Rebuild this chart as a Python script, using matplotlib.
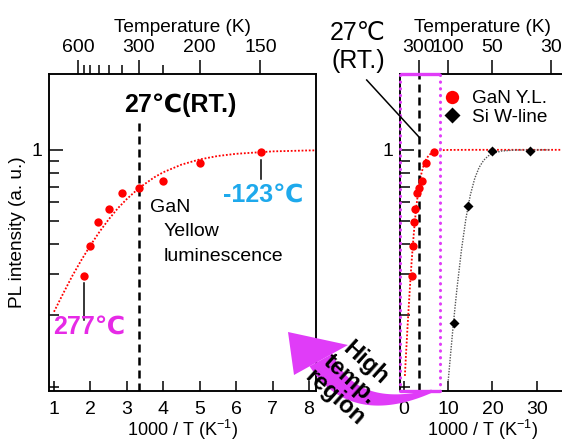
import numpy as np
import matplotlib
matplotlib.use('Agg')
import matplotlib.pyplot as plt
from matplotlib.patches import Polygon
from matplotlib.lines import Line2D
from matplotlib.ticker import NullFormatter

plt.rcParams['font.family'] = ['Liberation Sans', 'DejaVu Sans']
plt.rcParams['mathtext.default'] = 'regular'

W, H = 562, 441

# ---------------- data ----------------
gan_x = [1.82, 2.0, 2.22, 2.5, 2.86, 3.33, 4.0, 5.0, 6.67]          # 1000/T
gan_y = [0.294, 0.394, 0.496, 0.563, 0.656, 0.689, 0.740, 0.879, 0.98]

gan_fit_x = [0.2, 0.4, 0.6, 0.8, 1.0, 1.25, 1.5, 1.75, 2.0, 2.25, 2.5, 2.75,
             3.0, 3.33, 3.75, 4.0, 4.5, 5.0, 5.5, 6.0, 7.0, 8.0, 9.0, 10.0, 15.0, 40.0]
gan_fit_y = [0.111, 0.131, 0.153, 0.179, 0.207, 0.247, 0.293, 0.342, 0.395, 0.451,
             0.508, 0.566, 0.620, 0.689, 0.765, 0.804, 0.866, 0.911, 0.942, 0.962,
             0.985, 0.994, 0.997, 0.999, 1.0, 1.0]

si_x = [11.2, 14.5, 20.0, 28.6]
si_y = [0.186, 0.58, 0.99, 0.99]

si_fit_x = [10.0, 10.5, 11.0, 11.5, 12.0, 13.0, 14.0, 15.0, 16.0, 17.0, 18.0,
            19.0, 20.0, 22.0, 25.0, 33.0]
si_fit_y = [0.106, 0.135, 0.171, 0.213, 0.262, 0.379, 0.513, 0.645, 0.758, 0.844,
            0.903, 0.941, 0.965, 0.988, 0.998, 1.0]

temp_major_left = [600, 300, 200, 150]
temp_minor_left = [550, 500, 450, 400, 350, 250]
temp_major_right = [300, 100, 50, 30]
rt_temperature = 300
left_xticks = [1, 2, 3, 4, 5, 6, 7, 8]
right_xticks = [0, 10, 20, 30]
zoom_box_right = 8.1

MAG = '#E03CF8'
MAG_TXT = '#E62AE6'
CYAN = '#1EA9EC'

fig = plt.figure(figsize=(W / 100, H / 100), dpi=100)


def fpx(x, y):
    return (x / W, 1 - y / H)


top_px, bot_px = 74.5, 390.5
axL = fig.add_axes([49 / W, 1 - bot_px / H, (316 - 49) / W, (bot_px - top_px) / H])
axR = fig.add_axes([400 / W, 1 - bot_px / H, (565 - 400) / W, (bot_px - top_px) / H])

FS = 14
LFS = 13.7
YLIM = (0.0963, 2.08)
for ax in (axL, axR):
    ax.set_yscale('log')
    ax.set_ylim(*YLIM)
    ax.set_yticks([1])
    ax.set_yticklabels(['1'])
    ax.set_yticks([0.1, 0.2, 0.3, 0.4, 0.5, 0.6, 0.7, 0.8, 0.9], minor=True)
    ax.yaxis.set_minor_formatter(NullFormatter())
    ax.tick_params(axis='y', which='major', direction='in', length=10, width=1.1,
                   labelsize=FS, pad=5)
    ax.tick_params(axis='y', which='minor', direction='in', length=7, width=1.1)
    ax.tick_params(axis='x', which='major', direction='in', length=7, width=1.1,
                   labelsize=FS, pad=7.5)
    for s in ax.spines.values():
        s.set_linewidth(1.1)
    ax.set_xlabel('1000 / T (K$^{-1}$)', fontsize=13, labelpad=0)

axL.set_xlim(0.863, 8.192)
axL.set_xticks(left_xticks)
axR.set_xlim(-0.904, 36.4)
axR.set_xticks(right_xticks)
axR.spines['right'].set_visible(False)
axL.set_ylabel('PL intensity (a. u.)', fontsize=LFS, labelpad=4)

# top temperature axes
tops = []
for ax, tmaj, tmin in ((axL, temp_major_left, temp_minor_left),
                       (axR, temp_major_right, [])):
    axT = ax.twiny()
    axT.set_xlim(ax.get_xlim())
    axT.set_xticks([1000 / t for t in tmaj])
    axT.set_xticklabels([str(t) for t in tmaj])
    if tmin:
        axT.set_xticks([1000 / t for t in tmin], minor=True)
    axT.tick_params(axis='x', which='major', direction='out', length=10, width=1.1,
                    labelsize=FS, pad=3)
    axT.tick_params(axis='x', which='minor', direction='out', length=6.5, width=1.1)
    axT.set_xlabel('Temperature (K)', fontsize=LFS, labelpad=5)
    for s in axT.spines.values():
        s.set_linewidth(1.1)
    if ax is axR:
        axT.spines['right'].set_visible(False)
    tops.append(axT)
axRT = tops[1]

rt_x = 1000 / rt_temperature
DASH = (0, (3.2, 2))

# ---------------- left panel ----------------
fx = np.array(gan_fit_x)
fy = np.array(gan_fit_y)
m = fx >= 1.0
axL.plot(fx[m], fy[m], color='red', lw=1.3, ls=(0, (1, 1)), zorder=2)
axL.plot(gan_x, gan_y, 'o', color='red', ms=6, mec='none', zorder=3)
axL.plot([rt_x, rt_x], [YLIM[0], 1.34], color='black', lw=1.8, ls=DASH, zorder=2)
axL.plot([gan_x[0], gan_x[0]], [0.274, 0.191], color='black', lw=1.1)
axL.plot([gan_x[-1], gan_x[-1]], [0.907, 0.75], color='black', lw=1.1)

# ---------------- right panel ----------------
axR.axvline(rt_x, color='black', lw=1.8, ls=DASH, zorder=3)
axR.plot(gan_fit_x, gan_fit_y, color='red', lw=1.3, ls=(0, (1, 1)), zorder=2)
axR.plot(si_fit_x, si_fit_y, color='#555555', lw=1.0, ls=(0, (1, 1)), zorder=2)
axR.plot(gan_x, gan_y, 'o', color='red', ms=6, mec='none', zorder=5)
axR.plot(si_x, si_y, 'D', color='black', ms=5.3, mec='none', zorder=5)

# magenta zoom box drawn on the top twin so it lies above the spines
xt = axRT.get_xaxis_transform()
x0 = axRT.get_xlim()[0]
axRT.plot([x0, zoom_box_right], [1, 1], transform=xt, color=MAG, lw=2.4,
          clip_on=False, zorder=4, solid_capstyle='butt')
axRT.plot([x0, zoom_box_right], [0, 0], transform=xt, color=MAG, lw=2.4,
          clip_on=False, zorder=4, solid_capstyle='butt')
for xx in (x0, zoom_box_right):
    axRT.plot([xx, xx], [0, 1], transform=xt, color=MAG, lw=2.2,
              ls=(0, (0.1, 2.1)), dash_capstyle='round', clip_on=False, zorder=4)

handles = [Line2D([], [], marker='o', color='red', ls='none', ms=9.6, mec='none'),
           Line2D([], [], marker='D', color='black', ls='none', ms=8.5, mec='none')]
axRT.legend(handles, ['GaN Y.L.', 'Si W-line'], frameon=False, fontsize=LFS,
            loc='upper left', bbox_to_anchor=fpx(442.6, 90), bbox_transform=fig.transFigure,
            borderpad=0, borderaxespad=0, handlelength=1.0, handletextpad=0.57,
            labelspacing=0.05)

# ---------------- texts ----------------
fig.text(*fpx(124, 111.7), '27℃(RT.)', fontsize=18, fontweight='bold',
         ha='left', va='baseline')
fig.text(*fpx(330, 40), '27℃', fontsize=18, ha='left', va='baseline')
fig.text(*fpx(331.7, 68.3), '(RT.)', fontsize=18, ha='left', va='baseline')
fig.add_artist(Line2D([366.7 / W, 419 / W], [1 - 80 / H, 1 - 137 / H],
                      transform=fig.transFigure, color='black', lw=1.1))
fig.text(*fpx(150, 211.7), 'GaN', fontsize=14, ha='left', va='baseline')
fig.text(*fpx(163.3, 236), 'Yellow', fontsize=14, ha='left', va='baseline')
fig.text(*fpx(163.3, 261), 'luminescence', fontsize=14, ha='left', va='baseline')
fig.text(*fpx(222.7, 201.5), '-123℃', fontsize=18, fontweight='bold', color=CYAN,
         ha='left', va='baseline')
fig.text(*fpx(53.3, 333.5), '277℃', fontsize=18, fontweight='bold', color=MAG_TXT,
         ha='left', va='baseline')

# ---------------- curved arrow (pixel geometry) ----------------
B = np.array([321.0, 360.0])
C = np.array([353.0, 418.0])
T = np.array([432.0, 391.0])
t = np.linspace(0, 1, 80)[:, None]
P = (1 - t) ** 2 * B + 2 * (1 - t) * t * C + t ** 2 * T
dP = 2 * (1 - t) * (C - B) + 2 * t * (T - C)
nrm = np.stack([-dP[:, 1], dP[:, 0]], axis=1)
nrm /= np.linalg.norm(nrm, axis=1)[:, None]
wid = 26 * (1 - t[:, 0]) ** 0.9 + 3 * t[:, 0]
left = P + nrm * wid[:, None] / 2
right = P - nrm * wid[:, None] / 2
body = np.vstack([left, right[::-1]])
head = np.array([[288.0, 332.0], [294.0, 375.0], [348.0, 345.0]])


def to_fig(a):
    return np.column_stack([a[:, 0] / W, 1 - a[:, 1] / H])


fig.add_artist(Polygon(to_fig(body), closed=True, transform=fig.transFigure,
                       facecolor=MAG, edgecolor='none', zorder=5))
fig.add_artist(Polygon(to_fig(head), closed=True, transform=fig.transFigure,
                       facecolor=MAG, edgecolor='none', zorder=5))
fig.text(*fpx(350, 380), 'High\ntemp.\nregion', fontsize=17, fontweight='bold',
         rotation=-42, ha='center', va='center', rotation_mode='anchor',
         multialignment='center', linespacing=1.0, zorder=6)

fig.savefig('out.png', dpi=100)
